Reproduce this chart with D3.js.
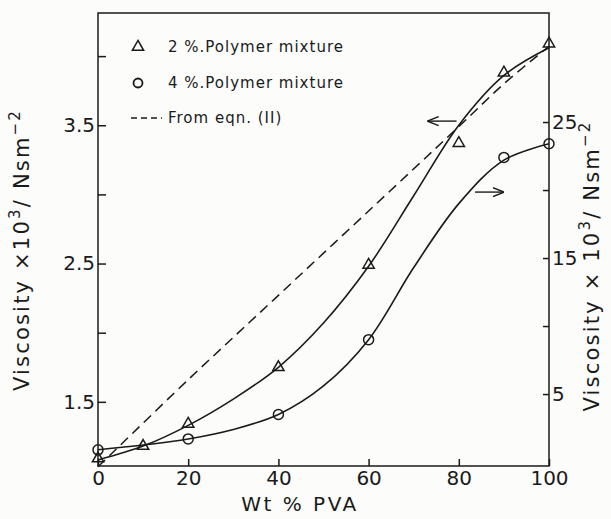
<!DOCTYPE html>
<html>
<head>
<meta charset="utf-8">
<script src="https://cdn.jsdelivr.net/npm/d3@7"></script>
<style>
body { margin: 0; background: #fcfcfa; }
svg { display: block; font-family: "DejaVu Sans", sans-serif; }
</style>
</head>
<body>
<svg id="chart" width="611" height="519"></svg>
<script>
// measured points, 2% mixture (left axis)
var pva2 = [0, 10, 20, 40, 60, 80, 90, 100];
var visc2 = [1.09, 1.18, 1.34, 1.75, 2.49, 3.37, 3.88, 4.09];
// measured points, 4% mixture (right axis)
var pva4 = [0, 20, 40, 60, 90, 100];
var visc4 = [0.9, 1.7, 3.5, 9.0, 22.4, 23.4];
// hand drawn smooth curves
var fitX = [0, 10, 20, 30, 40, 50, 60, 70, 80, 90, 100];
var fit2 = [1.08, 1.18, 1.33, 1.52, 1.75, 2.07, 2.48, 2.99, 3.50, 3.86, 4.06];
var fit4 = [0.9, 1.25, 1.7, 2.4, 3.5, 5.6, 9.0, 14.3, 19.0, 22.2, 23.4];
// from eqn. (II)
var eqnX = [0, 20, 40, 60, 80, 90, 100];
var eqnY = [1.03, 1.66, 2.27, 2.88, 3.49, 3.80, 4.07];

var xTicks = [0, 20, 40, 60, 80, 100];
var leftTicks = [1.5, 2, 2.5, 3, 3.5, 4];
var leftLabels = [1.5, 2.5, 3.5];
var rightTicks = [5, 10, 15, 20, 25];
var rightLabels = [5, 15, 25];

var svg = d3.select("#chart");
var pLeft = 98, pRight = 549, pTop = 13, pBottom = 466;

var x = d3.scaleLinear().domain([0, 100]).range([pLeft, pRight]);
var yL = d3.scaleLinear().domain([1.036, 4.319]).range([pBottom, 12]);
var yR = d3.scaleLinear().domain([-0.29, 33.09]).range([pBottom, 12]);

var ink = "#1a1a1a";

// frame
svg.append("rect")
	.attr("x", pLeft).attr("y", pTop)
	.attr("width", pRight - pLeft).attr("height", pBottom - pTop)
	.attr("fill", "none").attr("stroke", ink).attr("stroke-width", 1.5);

function styleAxis(g) {
	g.select(".domain").remove();
	g.selectAll("line").attr("stroke", ink).attr("stroke-width", 1.5);
	g.selectAll("text").attr("fill", ink).style("font-size", "20px")
		.style("font-family", "'DejaVu Sans', sans-serif");
}

svg.append("g").attr("transform", "translate(0," + pBottom + ")")
	.call(d3.axisBottom(x).tickValues(xTicks).tickSize(-7).tickPadding(5).tickFormat(d3.format("d")))
	.call(styleAxis);

svg.append("g").attr("transform", "translate(" + pLeft + ",0)")
	.call(d3.axisLeft(yL).tickValues(leftTicks).tickSize(-8).tickPadding(3)
		.tickFormat(function(d) { return leftLabels.indexOf(d) >= 0 ? d3.format(".1f")(d) : ""; }))
	.call(styleAxis);

svg.append("g").attr("transform", "translate(" + pRight + ",0)")
	.call(d3.axisRight(yR).tickValues(rightTicks).tickSize(-6).tickPadding(3)
		.tickFormat(function(d) { return rightLabels.indexOf(d) >= 0 ? d : ""; }))
	.call(styleAxis);

// curves
var line2 = d3.line().x(function(d, i) { return x(fitX[i]); }).y(function(d) { return yL(d); })
	.curve(d3.curveCatmullRom.alpha(0.5));
var line4 = d3.line().x(function(d, i) { return x(fitX[i]); }).y(function(d) { return yR(d); })
	.curve(d3.curveCatmullRom.alpha(0.5));
var lineE = d3.line().x(function(d, i) { return x(eqnX[i]); }).y(function(d) { return yL(d); })
	.curve(d3.curveCatmullRom.alpha(0.5));

svg.append("path").attr("d", line2(fit2)).attr("fill", "none").attr("stroke", ink).attr("stroke-width", 1.6);
svg.append("path").attr("d", line4(fit4)).attr("fill", "none").attr("stroke", ink).attr("stroke-width", 1.6);
svg.append("path").attr("d", lineE(eqnY)).attr("fill", "none").attr("stroke", ink)
	.attr("stroke-width", 1.5).attr("stroke-dasharray", "10,6");

// markers
var tri = d3.symbol().type(d3.symbolTriangle).size(55);
svg.selectAll(".tri").data(visc2).enter().append("path")
	.attr("class", "tri")
	.attr("d", tri)
	.attr("transform", function(d, i) { return "translate(" + x(pva2[i]) + "," + yL(d) + ")"; })
	.attr("fill", "none").attr("stroke", ink).attr("stroke-width", 1.5);

svg.selectAll(".circ").data(visc4).enter().append("circle")
	.attr("class", "circ")
	.attr("cx", function(d, i) { return x(pva4[i]); })
	.attr("cy", function(d) { return yR(d); })
	.attr("r", 5)
	.attr("fill", "none").attr("stroke", ink).attr("stroke-width", 1.5);

// arrows pointing to the axis each curve belongs to
svg.append("defs").append("marker")
	.attr("id", "head").attr("viewBox", "0 -5 10 10")
	.attr("refX", 9).attr("markerWidth", 8).attr("markerHeight", 8)
	.attr("orient", "auto")
	.append("path").attr("d", "M0,-4L10,0L0,4").attr("fill", "none")
	.attr("stroke", ink).attr("stroke-width", 1.3);

svg.append("line")
	.attr("x1", x(79.5)).attr("x2", x(73.3)).attr("y1", yL(3.53)).attr("y2", yL(3.53))
	.attr("stroke", ink).attr("stroke-width", 1.4).attr("marker-end", "url(#head)");
svg.append("line")
	.attr("x1", x(83.6)).attr("x2", x(89.8)).attr("y1", yR(19.85)).attr("y2", yR(19.85))
	.attr("stroke", ink).attr("stroke-width", 1.4).attr("marker-end", "url(#head)");

// legend
var lg = svg.append("g").style("font-size", "15px").attr("fill", ink).style("letter-spacing", "1px");
lg.append("path").attr("d", tri).attr("transform", "translate(138,47)")
	.attr("fill", "none").attr("stroke", ink).attr("stroke-width", 1.5);
lg.append("text").attr("x", 168).attr("y", 52).text("2 %.Polymer mixture");
lg.append("circle").attr("cx", 138).attr("cy", 83).attr("r", 4.5)
	.attr("fill", "none").attr("stroke", ink).attr("stroke-width", 1.8);
lg.append("text").attr("x", 168).attr("y", 88).text("4 %.Polymer mixture");
lg.append("line").attr("x1", 131).attr("x2", 162).attr("y1", 118).attr("y2", 118)
	.attr("stroke", ink).attr("stroke-width", 1.4).attr("stroke-dasharray", "6,4");
lg.append("text").attr("x", 168).attr("y", 123).text("From eqn. (II)");

// axis titles
svg.append("text").attr("x", 300).attr("y", 511).attr("text-anchor", "middle")
	.style("font-size", "20px").style("letter-spacing", "2.5px").attr("fill", ink)
	.text("Wt % PVA");

function yTitle(cx, cy, first) {
	var t = svg.append("text")
		.attr("transform", "translate(" + cx + "," + cy + ") rotate(-90)")
		.attr("text-anchor", "middle")
		.style("font-size", "21px").style("letter-spacing", "2.2px").attr("fill", ink);
	t.append("tspan").text(first);
	t.append("tspan").attr("dy", -9).style("font-size", "15px").text("3");
	t.append("tspan").attr("dy", 9).text("/ Nsm");
	t.append("tspan").attr("dy", -9).style("font-size", "15px").text("\u22122");
}
yTitle(29, 250, "Viscosity \u00d710");
yTitle(599, 266, "Viscosity \u00d7 10");
</script>
</body>
</html>
